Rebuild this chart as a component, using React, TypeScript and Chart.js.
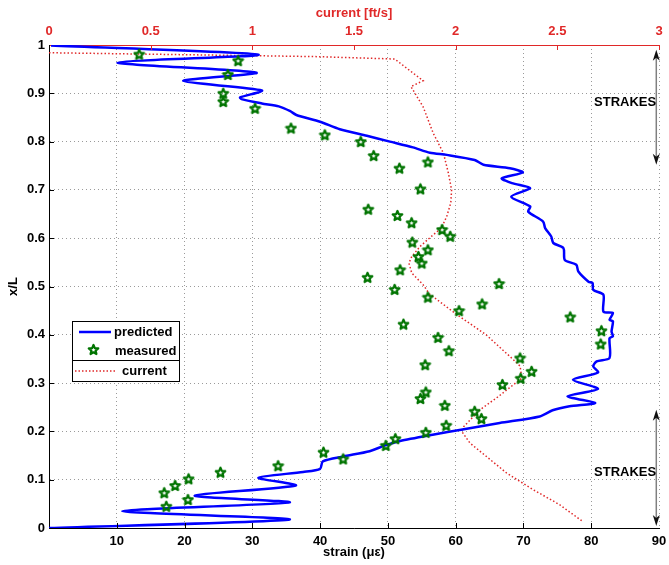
import React, { useEffect, useRef } from 'react';
import { Chart, registerables } from 'chart.js';

Chart.register(...registerables);

// ---- predicted strain profile (strain [µε] vs x/L) ----
const predStrain = [
  0, 35.5, 10.8, 35.5, 21.5, 36.4, 30.9, 37.5, 40, 40.4, 43.4, 47.3, 49.6, 51.8, 56.6, 61, 66.5, 72.4, 74.3,
  76.8, 80.6, 76.5, 81, 77.3, 81, 80.3, 80.8, 82.7, 82.7, 83.2, 83, 83.2, 82.7, 83.2, 81.8, 81.8, 80.3, 80.2,
  79.6, 78.1, 77.8, 76.1, 75.9, 74.4, 74.1, 73.2, 72.9, 70.7, 71, 68.2, 71, 68.3, 66.8, 69.9, 68, 64.1, 62.8,
  58.7, 56.2, 53.7, 50.3, 46.9, 42.9, 40, 36.5, 35.6, 33.9, 31.4, 28.4, 28.2, 31.4, 19.8, 30.6, 10.1, 30.9, 0.3,
];
const predXL = [
  0, 0.0176, 0.035, 0.053, 0.067, 0.088, 0.104, 0.116, 0.1225, 0.138, 0.148, 0.159, 0.171, 0.18, 0.193, 0.204,
  0.2175, 0.231, 0.2437, 0.252, 0.259, 0.2726, 0.288, 0.307, 0.322, 0.3347, 0.345, 0.352, 0.393, 0.397, 0.407,
  0.428, 0.431, 0.445, 0.448, 0.483, 0.493, 0.507, 0.51, 0.531, 0.545, 0.555, 0.5795, 0.59, 0.6035, 0.621,
  0.6345, 0.655, 0.6656, 0.686, 0.7036, 0.714, 0.724, 0.736, 0.745, 0.752, 0.762, 0.7725, 0.777, 0.788, 0.8,
  0.812, 0.8256, 0.841, 0.855, 0.863, 0.873, 0.879, 0.888, 0.8915, 0.906, 0.9255, 0.9427, 0.9634, 0.98, 0.999,
];

// ---- measured strain ----
const measStrain = [
  13.3, 27.9, 26.4, 25.7, 25.7, 30.4, 35.7, 40.7, 46, 47.9, 51.7, 55.9, 54.8, 47.1, 51.4, 53.5, 58, 59.2, 53.6,
  55.9, 54.5, 55, 51.8, 47, 66.4, 51, 55.9, 63.9, 60.5, 76.9, 52.3, 81.5, 57.4, 81.4, 59, 69.5, 55.5, 71.2, 69.6,
  66.9, 55.6, 54.8, 58.4, 62.8, 63.8, 58.6, 55.6, 51.1, 49.7, 40.5, 43.4, 33.8, 25.3, 20.6, 18.6, 17, 20.5, 17.3,
];
const measXL = [
  0.981, 0.9676, 0.939, 0.9, 0.883, 0.869, 0.828, 0.814, 0.8, 0.771, 0.745, 0.758, 0.702, 0.66, 0.647, 0.632,
  0.618, 0.604, 0.592, 0.576, 0.562, 0.5485, 0.5346, 0.519, 0.506, 0.494, 0.478, 0.464, 0.45, 0.437, 0.422,
  0.4085, 0.3946, 0.381, 0.367, 0.352, 0.338, 0.3243, 0.31, 0.297, 0.2817, 0.268, 0.254, 0.2416, 0.2265,
  0.2127, 0.198, 0.185, 0.171, 0.157, 0.143, 0.129, 0.1155, 0.1018, 0.088, 0.073, 0.059, 0.045,
];

// ---- current profile [ft/s] vs x/L ----
const currentVel = [
  0, 1.31, 1.7, 1.84, 1.78, 1.84, 1.89, 1.94, 1.964, 1.98, 1.976, 1.956, 1.93, 1.88, 1.825, 1.784, 1.77, 1.784,
  1.84, 1.87, 2.005, 2.15, 2.28, 2.317, 2.325, 2.2, 2.12, 2.04, 2.03, 2.07, 2.15, 2.25, 2.38, 2.51, 2.62,
];
const currentXL = [
  0.984, 0.976, 0.971, 0.926, 0.914, 0.872, 0.817, 0.776, 0.735, 0.7, 0.673, 0.645, 0.621, 0.6035, 0.583, 0.562,
  0.5485, 0.528, 0.5036, 0.485, 0.442, 0.4, 0.35, 0.335, 0.31, 0.269, 0.245, 0.21, 0.2, 0.176, 0.1485, 0.114,
  0.0796, 0.0486, 0.015,
];

// ---- strake zones (x/L extents) ----
const strakeTop = [0.99, 0.752];
const strakeBottom = [0.245, 0.004];
const strakeLabel = 'STRAKES';

const FONT = '"Liberation Sans", Arial, Helvetica, sans-serif';
const RED = '#e02828';
const BLUE = '#0000ff';
const GREEN = '#007400';

function makeStar(size: number, color: string) {
  const c = document.createElement('canvas');
  c.width = size;
  c.height = size;
  const g = c.getContext('2d')!;
  const cx = size / 2, cy = size / 2 + 0.5;
  const R = size / 2 - 1.5, r = R * 0.45;
  g.beginPath();
  for (let i = 0; i < 10; i++) {
    const a = -Math.PI / 2 + (i * Math.PI) / 5;
    const rad = i % 2 === 0 ? R : r;
    const x = cx + rad * Math.cos(a), y = cy + rad * Math.sin(a);
    if (i === 0) g.moveTo(x, y); else g.lineTo(x, y);
  }
  g.closePath();
  g.strokeStyle = color;
  g.lineWidth = 2.2;
  g.lineJoin = 'round';
  g.stroke();
  return c;
}

export default function App() {
  const ref = useRef<HTMLCanvasElement>(null);

  useEffect(() => {
    const canvas = ref.current!;
    const star = makeStar(13, GREEN);
    const tickFont = { family: FONT, size: 13, weight: 'bold' as const };

    const drawArrow = (ctx: CanvasRenderingContext2D, x: number, y1: number, y2: number) => {
      ctx.save();
      ctx.strokeStyle = '#808080';
      ctx.lineWidth = 1.5;
      ctx.beginPath();
      ctx.moveTo(x, y1 + 6);
      ctx.lineTo(x, y2 - 6);
      ctx.stroke();
      ctx.fillStyle = '#111';
      ctx.beginPath();
      ctx.moveTo(x, y1);
      ctx.lineTo(x - 3.5, y1 + 11);
      ctx.lineTo(x, y1 + 8);
      ctx.lineTo(x + 3.5, y1 + 11);
      ctx.closePath();
      ctx.fill();
      ctx.beginPath();
      ctx.moveTo(x, y2);
      ctx.lineTo(x - 3.5, y2 - 11);
      ctx.lineTo(x, y2 - 8);
      ctx.lineTo(x + 3.5, y2 - 11);
      ctx.closePath();
      ctx.fill();
      ctx.restore();
    };

    const extras = {
      id: 'extras',
      afterDraw(chart: any) {
        const ctx: CanvasRenderingContext2D = chart.ctx;
        const xs = chart.scales.x, x2 = chart.scales.x2, ys = chart.scales.y;
        const area = chart.chartArea;
        ctx.save();
        // inside tick marks
        ctx.lineWidth = 1;
        ctx.strokeStyle = '#000';
        for (let v = 10; v < 90; v += 10) {
          const p = Math.round(xs.getPixelForValue(v)) + 0.5;
          ctx.beginPath(); ctx.moveTo(p, area.bottom); ctx.lineTo(p, area.bottom - 5); ctx.stroke();
        }
        for (let i = 1; i < 10; i++) {
          const p = Math.round(ys.getPixelForValue(i / 10)) + 0.5;
          ctx.beginPath(); ctx.moveTo(area.left, p); ctx.lineTo(area.left + 5, p); ctx.stroke();
        }
        ctx.strokeStyle = RED;
        for (let i = 1; i <= 6; i++) {
          const p = Math.round(x2.getPixelForValue(i / 2)) + 0.5;
          ctx.beginPath(); ctx.moveTo(p, area.top); ctx.lineTo(p, area.top + 5); ctx.stroke();
        }
        // strakes
        const ax = xs.getPixelForValue(89.6);
        drawArrow(ctx, ax, ys.getPixelForValue(strakeTop[0]), ys.getPixelForValue(strakeTop[1]));
        drawArrow(ctx, ax, ys.getPixelForValue(strakeBottom[0]), ys.getPixelForValue(strakeBottom[1]));
        ctx.fillStyle = '#000';
        ctx.font = `bold 13px ${FONT}`;
        ctx.textAlign = 'center';
        ctx.textBaseline = 'middle';
        const tx = xs.getPixelForValue(85);
        ctx.fillText(strakeLabel, tx, ys.getPixelForValue(0.881));
        ctx.fillText(strakeLabel, tx, ys.getPixelForValue(0.115));
        // legend
        const L = 72.5, T = 321.5, R = 179.5, B = 381.5;
        ctx.fillStyle = '#fff';
        ctx.fillRect(L, T, R - L, B - T);
        ctx.strokeStyle = '#000';
        ctx.lineWidth = 1;
        ctx.strokeRect(L, T, R - L, B - T);
        ctx.beginPath(); ctx.moveTo(L, 360.5); ctx.lineTo(R, 360.5); ctx.stroke();
        ctx.strokeStyle = BLUE;
        ctx.lineWidth = 2.5;
        ctx.beginPath(); ctx.moveTo(79, 332); ctx.lineTo(111, 332); ctx.stroke();
        ctx.drawImage(star, 93.5 - 6.5, 349.5 - 6.5);
        ctx.strokeStyle = RED;
        ctx.lineWidth = 1.5;
        ctx.setLineDash([1.5, 2]);
        ctx.beginPath(); ctx.moveTo(75, 371); ctx.lineTo(117, 371); ctx.stroke();
        ctx.setLineDash([]);
        ctx.fillStyle = '#000';
        ctx.textAlign = 'left';
        ctx.fillText('predicted', 114, 332.5);
        ctx.fillText('measured', 115, 351);
        ctx.fillText('current', 122, 371.5);
        ctx.restore();
      },
    };

    const gridCommon = { color: '#9a9a9a', lineWidth: 1, drawTicks: false };
    const noPadH = (h: number) => (s: any) => { s.height = h; s.paddingLeft = 0; s.paddingRight = 0; };

    const chart = new Chart(canvas, {
      type: 'scatter',
      data: {
        datasets: [
          {
            label: 'current',
            xAxisID: 'x2',
            yAxisID: 'y',
            data: currentVel.map((v, i) => ({ x: v, y: currentXL[i] })),
            showLine: true,
            borderColor: RED,
            borderWidth: 1.5,
            borderDash: [1.5, 2.2],
            pointRadius: 0,
            fill: false,
            order: 3,
          },
          {
            label: 'predicted',
            xAxisID: 'x',
            yAxisID: 'y',
            data: predStrain.map((v, i) => ({ x: v, y: predXL[i] })),
            showLine: true,
            borderColor: BLUE,
            borderWidth: 2.5,
            tension: 0.25,
            pointRadius: 0,
            fill: false,
            order: 2,
          },
          {
            label: 'measured',
            xAxisID: 'x',
            yAxisID: 'y',
            data: measStrain.map((v, i) => ({ x: v, y: measXL[i] })),
            showLine: false,
            pointStyle: star as any,
            pointRadius: 6,
            order: 1,
          },
        ],
      },
      options: {
        animation: false,
        responsive: false,
        devicePixelRatio: 1,
        layout: { padding: { left: 0, right: 10, top: 0, bottom: 0 } },
        plugins: { legend: { display: false }, tooltip: { enabled: false } },
        scales: {
          x: {
            type: 'linear',
            position: 'bottom',
            min: 0,
            max: 90,
            afterFit: noPadH(37),
            ticks: {
              stepSize: 10,
              autoSkip: false,
              maxRotation: 0,
              padding: 6,
              color: '#000',
              font: tickFont,
              callback: (v: any) => (v === 0 ? '' : String(v)),
            },
            grid: gridCommon,
            border: { color: '#000', width: 1, dash: [1, 3] },
            title: { display: true, text: 'strain (με)', color: '#000', font: tickFont, padding: { top: 0, bottom: 5 } },
          },
          x2: {
            type: 'linear',
            position: 'top',
            min: 0,
            max: 3,
            afterFit: noPadH(45),
            ticks: {
              stepSize: 0.5,
              autoSkip: false,
              maxRotation: 0,
              padding: 6,
              color: RED,
              font: tickFont,
              callback: (v: any) => String(Number(Number(v).toFixed(1))),
            },
            grid: { drawOnChartArea: false, drawTicks: false },
            border: { color: RED, width: 1 },
            title: { display: true, text: 'current [ft/s]', color: RED, font: tickFont, padding: { top: 6, bottom: 0 } },
          },
          y: {
            type: 'linear',
            position: 'left',
            min: 0,
            max: 1,
            afterFit: (s: any) => { s.width = 49; s.paddingTop = 0; s.paddingBottom = 0; },
            ticks: {
              stepSize: 0.1,
              autoSkip: false,
              padding: 4,
              color: '#000',
              font: tickFont,
              callback: (v: any) => String(Number(Number(v).toFixed(1))),
            },
            grid: gridCommon,
            border: { color: '#000', width: 1, dash: [1, 3] },
            title: { display: true, text: 'x/L', color: '#000', font: tickFont, padding: { top: 6, bottom: 0 } },
          },
        },
      },
      plugins: [extras],
    } as any);

    return () => chart.destroy();
  }, []);

  return (
    <div style={{ position: 'absolute', left: 0, top: 0, width: 669, height: 565, background: '#fff' }}>
      <canvas ref={ref} width={669} height={565} style={{ width: 669, height: 565, display: 'block' }} />
    </div>
  );
}
